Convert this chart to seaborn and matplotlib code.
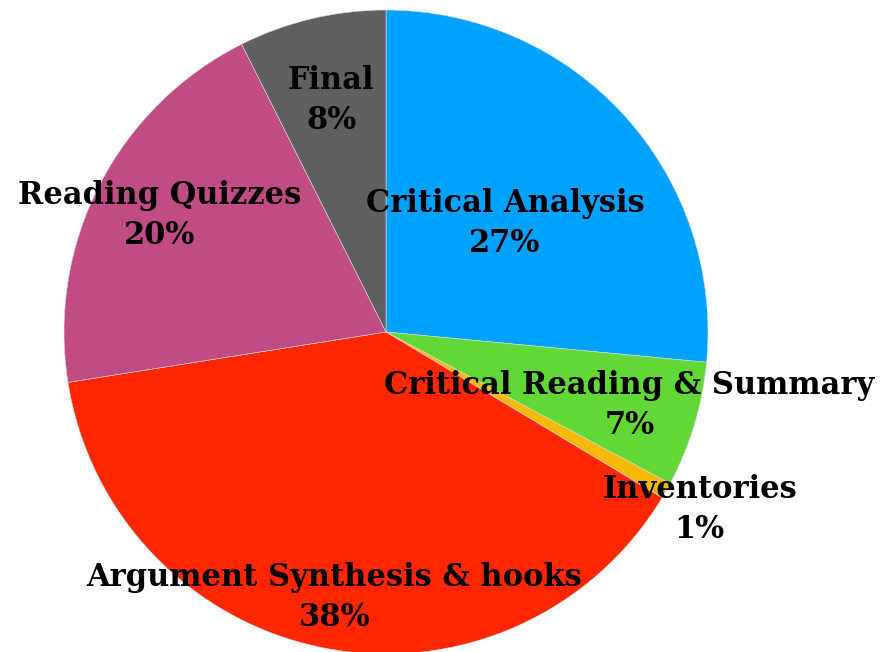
import numpy as np
import matplotlib.pyplot as plt
import seaborn as sns

sns.set_style("white")
plt.rcParams["font.family"] = ["DejaVu Serif"]

categories = ["Critical Analysis", "Critical Reading & Summary", "Inventories",
              "Argument Synthesis & hooks", "Reading Quizzes", "Final"]
shares = [26.5, 6.3, 0.8, 38.9, 20.1, 7.4]
pct_labels = ["27%", "7%", "1%", "38%", "20%", "8%"]
colors = ["#00A2FF", "#61D836", "#F9B900", "#FF2600", "#C04B85", "#606060"]
label_radius = [0.5, 0.79, 1.12, 0.84, 0.79, 0.74]

fig = plt.figure(figsize=(8.88, 6.52), dpi=100)
ax = fig.add_axes([0, 0, 1, 1])

wedges, _ = ax.pie(shares, colors=colors, startangle=90, counterclock=False,
                   wedgeprops=dict(linewidth=0.4, edgecolor="#dddddd"))

for w, name, pct, r in zip(wedges, categories, pct_labels, label_radius):
    mid = np.deg2rad((w.theta1 + w.theta2) / 2)
    x, y = r * np.cos(mid), r * np.sin(mid)
    ax.text(x, y, f"{name}\n{pct}", ha="center", va="center",
            fontsize=22, fontweight="bold", color="black", linespacing=1.38)

ax.set_aspect("auto")
ax.set_xlim(-386 / 322, (888 - 386) / 322)
ax.set_ylim(-(652 - 332) / 322, 332 / 322)
ax.axis("off")

fig.savefig("out.png", dpi=100)
